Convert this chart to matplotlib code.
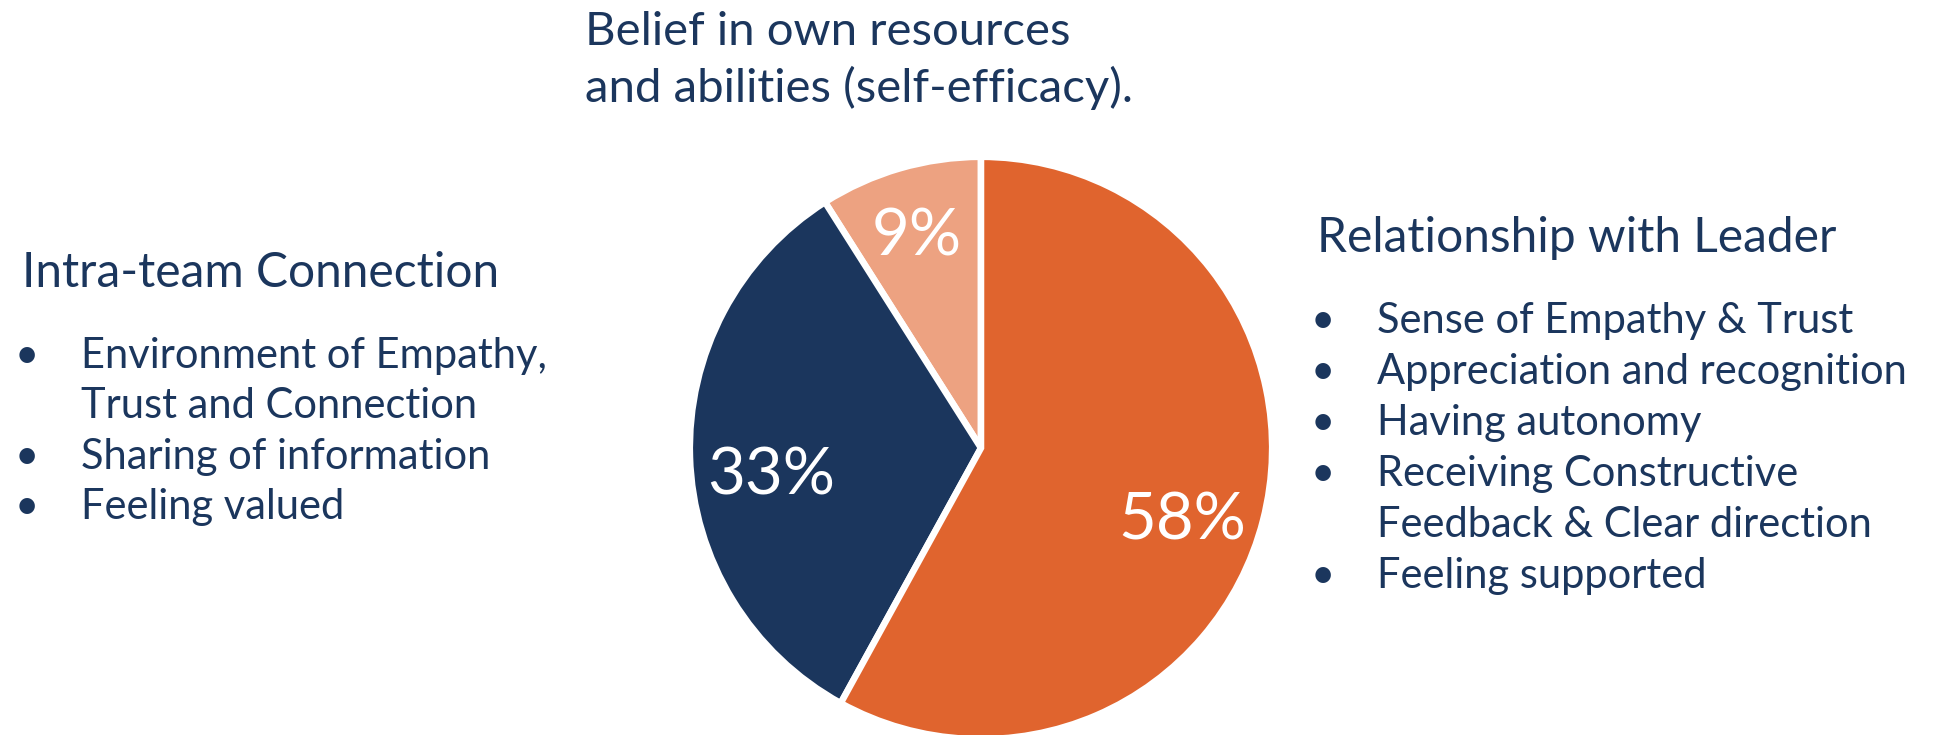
import matplotlib
matplotlib.use("Agg")
import matplotlib.pyplot as plt

# ---- data ----
categories = ["Belief in own resources\nand abilities (self-efficacy).",
              "Intra-team Connection",
              "Relationship with Leader"]
shares = [9, 33, 58]
pct_labels = ["9%", "33%", "58%"]
colors = ["#EDA281", "#1B365D", "#E0642E"]

left_heading = "Intra-team Connection"
left_bullets = [["Environment of Empathy,", "Trust and Connection"],
                ["Sharing of information"],
                ["Feeling valued"]]
right_heading = "Relationship with Leader"
right_bullets = [["Sense of Empathy & Trust"],
                 ["Appreciation and recognition"],
                 ["Having autonomy"],
                 ["Receiving Constructive", "Feedback & Clear direction"],
                 ["Feeling supported"]]
top_heading = ["Belief in own resources", "and abilities (self-efficacy)."]

NAVY = "#1B365D"
FONT = "Lato"
W, H = 1942, 735
fig = plt.figure(figsize=(W / 100, H / 100), dpi=100)
fig.patch.set_facecolor("white")

# pie axes: centre (981,448) px, radius 288 px
cx, cy, R = 981, 448, 288
ax = fig.add_axes([(cx - R) / W, (H - cy - R) / H, 2 * R / W, 2 * R / H])
wedges, texts = ax.pie(shares, colors=colors, startangle=90, counterclock=True,
                       radius=1.011,
                       wedgeprops=dict(edgecolor="white", linewidth=4.7))
ax.set_xlim(-1, 1)
ax.set_ylim(-1, 1)
ax.set_aspect("equal")
ax.axis("off")

label_pos = [(-0.222, 0.670), (-0.729, -0.160), (0.698, -0.316)]
for lab, (x, y) in zip(pct_labels, label_pos):
    ax.text(x, y, lab, ha="center", va="baseline", color="white",
            fontsize=47, family=FONT)


def ftext(x, y, s, size, ha="left", family=FONT):
    fig.text(x / W, 1 - y / H, s, ha=ha, va="baseline", fontsize=size,
             color=NAVY, family=family)


BSIZE = 30

# top heading
for i, line in enumerate(top_heading):
    ftext(585, 45 + i * 57, line, 34)

# left block
ftext(22, 287, left_heading, 34.5)
y = 368
for item in left_bullets:
    ftext(27, y, "\u2022", BSIZE, ha="center")
    for line in item:
        ftext(81, y, line, BSIZE)
        y += 50.3

# right block
ftext(1317, 252, right_heading, 34.5)
y = 333
for item in right_bullets:
    ftext(1323, y, "\u2022", BSIZE, ha="center")
    for line in item:
        ftext(1377, y, line, BSIZE)
        y += 51

fig.savefig("out.png", dpi=100, facecolor="white")
